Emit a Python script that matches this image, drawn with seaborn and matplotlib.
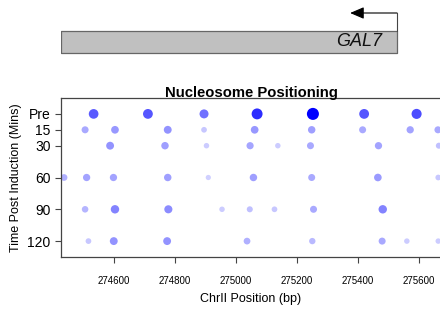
#!/usr/bin/env python3
"""Nucleosome positioning over GAL7 after galactose induction (bubble chart)."""
import matplotlib
matplotlib.use("Agg")
import matplotlib.pyplot as plt
import pandas as pd
import seaborn as sns

# --------------------------- Data ---------------------------
# time points (minutes, "Pre" = 0) and tick labels
time_points = [0, 15, 30, 60, 90, 120]
time_labels = ["Pre", "15", "30", "60", "90", "120"]

# nucleosome dyad positions (bp) and relative occupancy (0-1) per time point
pos_pre = [274533, 274711, 274895, 275069, 275252, 275420, 275592]
occ_pre = [0.60, 0.62, 0.50, 0.80, 1.00, 0.62, 0.66]

pos_15 = [274505, 274603, 274776, 274895, 275061, 275248, 275415, 275571, 275662]
occ_15 = [0.25, 0.33, 0.35, 0.12, 0.33, 0.30, 0.25, 0.28, 0.25]

pos_30 = [274587, 274767, 274903, 275046, 275137, 275244, 275467, 275665]
occ_30 = [0.35, 0.30, 0.10, 0.27, 0.10, 0.25, 0.28, 0.15]

pos_60 = [274436, 274510, 274598, 274776, 274909, 275057, 275248, 275465, 275663]
occ_60 = [0.22, 0.28, 0.28, 0.30, 0.08, 0.30, 0.25, 0.32, 0.12]

pos_90 = [274505, 274603, 274778, 274954, 275045, 275126, 275254, 275481]
occ_90 = [0.20, 0.42, 0.38, 0.10, 0.15, 0.12, 0.25, 0.42]

pos_120 = [274516, 274599, 274774, 275036, 275250, 275479, 275560, 275663]
occ_120 = [0.12, 0.35, 0.35, 0.22, 0.18, 0.25, 0.10, 0.10]

x_ticks = [274600, 274800, 275000, 275200, 275400, 275600]
x_range = (274426, 275672)

# GAL7 gene (Crick strand, transcribed right -> left)
gene_name = "GAL7"
gene_start, gene_end = 274426, 275528
tss_arrow_tip = 275374


def build_frame() -> pd.DataFrame:
    rows = []
    for t, pos, occ in zip(time_points,
                           [pos_pre, pos_15, pos_30, pos_60, pos_90, pos_120],
                           [occ_pre, occ_15, occ_30, occ_60, occ_90, occ_120]):
        for p, o in zip(pos, occ):
            rows.append({"position": p, "time": t, "occupancy": o})
    return pd.DataFrame(rows)


def main():
    df = build_frame()

    sns.set_theme(style="white")
    plt.rcParams["font.family"] = ["Liberation Sans", "DejaVu Sans"]
    plt.rcParams["text.color"] = "black"
    plt.rcParams["axes.labelcolor"] = "black"
    plt.rcParams["xtick.color"] = "black"
    plt.rcParams["ytick.color"] = "black"

    fig = plt.figure(figsize=(4.4, 3.16), dpi=100)

    # Gene track
    gax = fig.add_axes([61 / 440, 260 / 316, 380 / 440, 46 / 316])
    gax.set_xlim(*x_range)
    gax.set_ylim(0, 46)
    gax.axis("off")
    gax.broken_barh([(gene_start, gene_end - gene_start)], (3, 22),
                    facecolors="#c0c0c0", edgecolors="#666666", linewidth=0.9)
    gax.plot([gene_end, gene_end], [25, 43], color="#444444", lw=0.8)
    gax.annotate("", xy=(tss_arrow_tip, 43), xytext=(gene_end, 43),
                 arrowprops=dict(arrowstyle="-|>,head_length=0.7,head_width=0.3",
                                 color="black", lw=0.8, shrinkA=0, shrinkB=0))
    gax.text(275479, 14, gene_name, style="italic", fontsize=13,
             ha="right", va="center", color="#111111")

    # Bubble chart
    ax = fig.add_axes([61 / 440, 59 / 316, 380 / 440, 159 / 316])
    cmap = sns.blend_palette(["#e2e2ff", "#0000ff"], as_cmap=True)
    sns.scatterplot(data=df, x="position", y="time", hue="occupancy", size="occupancy",
                    palette=cmap, hue_norm=(0, 1), sizes=(9, 75), size_norm=(0, 1),
                    linewidth=0, legend=False, ax=ax)

    ax.set_xlim(*x_range)
    ax.set_ylim(135, -15)
    ax.set_yticks(time_points)
    ax.set_yticklabels(time_labels, fontsize=10)
    ax.set_xticks(x_ticks)
    ax.set_xticklabels([str(v) for v in x_ticks], fontsize=7)
    ax.tick_params(axis="y", left=True, length=4.5, width=0.8, color="#444444", pad=3)
    ax.tick_params(axis="x", bottom=True, length=4.5, width=0.8, color="#444444", pad=9)

    for side in ["top", "left", "bottom"]:
        ax.spines[side].set_color("#444444")
        ax.spines[side].set_linewidth(0.9)
    ax.spines["right"].set_visible(False)

    ax.set_title("Nucleosome Positioning", fontsize=10.7, fontweight="bold", pad=1)
    ax.set_xlabel("ChrII Position (bp)", fontsize=9, labelpad=5)
    ax.set_ylabel("Time Post Induction (Mins)", fontsize=9, labelpad=4)

    fig.savefig("out.png", dpi=100)
    plt.close(fig)


if __name__ == "__main__":
    main()
